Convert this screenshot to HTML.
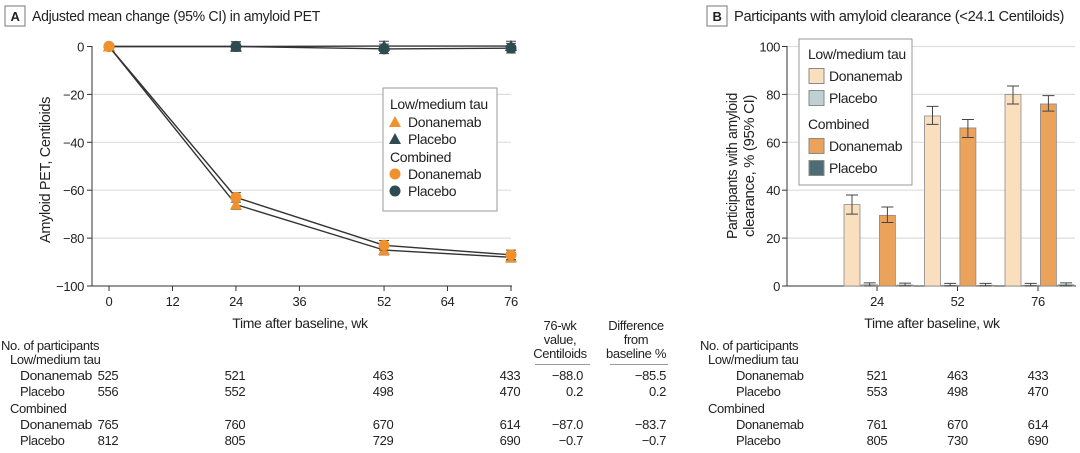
<!DOCTYPE html>
<html><head><meta charset="utf-8"><style>
html,body{margin:0;padding:0;background:#fff;}
svg{display:block;font-family:"Liberation Sans Narrow","Liberation Sans",sans-serif;}
text{fill:#222;letter-spacing:-0.35px;}
</style></head><body>
<svg id="chart" width="1080" height="453" viewBox="0 0 1080 453">
<g id="A"></g>
<g id="B"></g>
</svg>
<script>
// Panel A data
const weeksA = [0, 24, 52, 76];
const ldDona = [0, -66, -85, -88];
const ldPlac = [0, 0, 0.2, 0.2];
const cDona = [0, -63, -83, -87];
const cPlac = [0, 0, -1, -0.7];
const errA = [0.5, 2, 2, 2];
const xTicksA = [0, 12, 24, 36, 52, 64, 76];
const yTicksA = [0, -20, -40, -60, -80, -100];
// Panel B data
const groupsB = ["24", "52", "76"];
const bLdDona = [34, 71, 80];
const bLdDonaLo = [30, 67.5, 76];
const bLdDonaHi = [38, 75, 83.5];
const bLdPlac = [0.5, 0.3, 0.3];
const bCDona = [29.5, 66, 76];
const bCDonaLo = [26.5, 62, 73];
const bCDonaHi = [33, 69.5, 79.5];
const bCPlac = [0.4, 0.3, 0.5];
const yTicksB = [0, 20, 40, 60, 80, 100];
// Tables
const tableA = [["Donanemab","525","521","463","433","−88.0","−85.5"],["Placebo","556","552","498","470","0.2","0.2"],["Donanemab","765","760","670","614","−87.0","−83.7"],["Placebo","812","805","729","690","−0.7","−0.7"]];
const tableB = [["Donanemab","521","463","433"],["Placebo","553","498","470"],["Donanemab","761","670","614"],["Placebo","805","730","690"]];

const NS = "http://www.w3.org/2000/svg";
const OR = "#F0912E", TE = "#2E4A52";
function el(parent, tag, attrs, txt){
  const e = document.createElementNS(NS, tag);
  for (const k in attrs) e.setAttribute(k, attrs[k]);
  if (txt !== undefined) e.textContent = txt;
  parent.appendChild(e);
  return e;
}
const A = document.getElementById("A");
const B = document.getElementById("B");
const xA = w => 109 + w * (511 - 109) / 76;
const yA = v => 46.5 + (0 - v) * (286 - 46.5) / 100;

// Panel A title
let t = el(A, "rect", {x:5, y:6, width:20, height:20, fill:"#fff", stroke:"#777"});


t = el(A, "text", {x:15, y:21, "text-anchor":"middle", "font-size":13, "font-weight":"bold"}, "A");


t = el(A, "text", {x:32, y:21, "font-size":15, textLength:288, lengthAdjust:"spacingAndGlyphs"}, "Adjusted mean change (95% CI) in amyloid PET");



// grid & axes
yTicksA.forEach(v => {
  if (v !== 0 && v !== -100) {
    const g = el(A, "line", {x1:92, x2:511, y1:yA(v), y2:yA(v), stroke:"#dedede", "stroke-width":1.2});
    
    
  }
  const tk = el(A, "line", {x1:87, x2:92, y1:yA(v), y2:yA(v), stroke:"#333"});
  
  
  const lb = el(A, "text", {x:84, y:yA(v)+5, "text-anchor":"end", "font-size":13}, v === 0 ? "0" : "−" + (-v));
  
  
});
t = el(A, "line", {x1:92, x2:92, y1:46, y2:286, stroke:"#333"});


t = el(A, "line", {x1:92, x2:512, y1:286, y2:286, stroke:"#333"});


xTicksA.forEach(w => {
  const tk = el(A, "line", {x1:xA(w), x2:xA(w), y1:286, y2:291, stroke:"#333"});
  
  
  const lb = el(A, "text", {x:xA(w), y:306, "text-anchor":"middle", "font-size":13}, String(w));
  
  
});
t = el(A, "text", {x:300, y:328, "text-anchor":"middle", "font-size":14}, "Time after baseline, wk");


t = el(A, "text", {x:0, y:0, "text-anchor":"middle", "font-size":14.5, textLength:146, lengthAdjust:"spacingAndGlyphs", transform:"translate(50,170) rotate(-90)"}, "Amyloid PET, Centiloids");



function series(vals, color, shape, name){
  const g = el(A, "g", {});
  
  
  const pts = vals.map((v,i) => xA(weeksA[i]) + "," + yA(v)).join(" ");
  const pl = el(g, "polyline", {points:pts, fill:"none", stroke:"#333", "stroke-width":1.4});
  
  
  vals.forEach((v,i) => {
    const x = xA(weeksA[i]), y = yA(v);
    if (i > 0) {
      const y1 = yA(v + errA[i]), y2 = yA(v - errA[i]);
      const eb = el(g, "path", {d:`M${x},${y1}V${y2}M${x-5},${y1}H${x+5}M${x-5},${y2}H${x+5}`, stroke:"#444", fill:"none", "stroke-width":1});
      
      
    }
    let m;
    if (shape === "tri") m = el(g, "polygon", {points:`${x},${y-6} ${x-6},${y+5} ${x+6},${y+5}`, fill:color});
    else m = el(g, "circle", {cx:x, cy:y, r:5.5, fill:color});
    
    
  });
}
series(ldPlac, TE, "tri", "low-tau-placebo");
series(cPlac, TE, "circ", "combined-placebo");
series(ldDona, OR, "tri", "low-tau-donanemab");
series(cDona, OR, "circ", "combined-donanemab");

// Legend A
const legA = el(A, "g", {});


t = el(legA, "rect", {x:383, y:88, width:114, height:123, fill:"#fff", stroke:"#999"});


const legItemsA = [["Low/medium tau",null,null,104],["Donanemab",OR,"tri",122],["Placebo",TE,"tri",139],["Combined",null,null,157],["Donanemab",OR,"circ",174],["Placebo",TE,"circ",191]];
legItemsA.forEach(it => {
  const x0 = it[1] ? 408 : 390;
  const tx = el(legA, "text", {x:x0, y:it[3]+5, "font-size":14}, it[0]);
  
  
  if (it[1]) {
    const x = 395, y = it[3];
    let m = it[2] === "tri" ? el(legA, "polygon", {points:`${x},${y-6} ${x-6},${y+5} ${x+6},${y+5}`, fill:it[1]}) : el(legA, "circle", {cx:x, cy:y, r:5.5, fill:it[1]});
    
    
  }
});

// Table A
function txt(p, x, y, s, anchor, name, size){
  const e = el(p, "text", {x:x, y:y, "text-anchor":anchor || "start", "font-size":size || 13}, s);
  
  
  return e;
}
txt(A, 1, 350, "No. of participants", "start", "table-heading");
txt(A, 10, 364, "Low/medium tau", "start", "table-group-label");
txt(A, 10, 413, "Combined", "start", "table-group-label");
txt(A, 560, 330, "76-wk", "middle", "table-col-header");
txt(A, 560, 344, "value,", "middle", "table-col-header");
txt(A, 560, 358, "Centiloids", "middle", "table-col-header");
txt(A, 636, 330, "Difference", "middle", "table-col-header");
txt(A, 636, 344, "from", "middle", "table-col-header");
txt(A, 636, 358, "baseline %", "middle", "table-col-header");
t = el(A, "path", {d:"M535,364.5H590M610,364.5H668", stroke:"#999"});


const rowY = [380, 396, 429, 445];
tableA.forEach((r,i) => {
  const lab = txt(A, 20, rowY[i], r[0], "start", "table-row-label");
  if (r[0] === "Donanemab") { lab.setAttribute("textLength", "72"); lab.setAttribute("lengthAdjust", "spacingAndGlyphs"); }
  [0,24,52,76].forEach((w,j) => txt(A, xA(w)-1, rowY[i], r[j+1], "middle", "table-count"));
  txt(A, 583, rowY[i], r[5], "end", "table-76wk-value");
  txt(A, 666, rowY[i], r[6], "end", "table-difference");
});

// Panel B
const yB = v => 286 - v * (286 - 46.5) / 100;
const gx = i => 877 + i * 80.5;
t = el(B, "rect", {x:707, y:6, width:20, height:20, fill:"#fff", stroke:"#777"});


txt(B, 717, 21, "B", "middle", "panel-b-letter", 13).setAttribute("font-weight", "bold");
t = txt(B, 734, 21, "Participants with amyloid clearance (<24.1 Centiloids)", "start", "panel-b-title", 15);
t.setAttribute("textLength", "330");
t.setAttribute("lengthAdjust", "spacingAndGlyphs");
yTicksB.forEach(v => {
  if (v !== 0) {
    const g = el(B, "line", {x1:787, x2:1075, y1:yB(v), y2:yB(v), stroke:"#dedede", "stroke-width":1.2});
    
    
  }
  const tk = el(B, "line", {x1:782, x2:787, y1:yB(v), y2:yB(v), stroke:"#333"});
  
  
  txt(B, 780, yB(v)+5, String(v), "end", "y-tick-label", 13);
});
t = el(B, "line", {x1:787, x2:787, y1:46, y2:286, stroke:"#333"});


t = el(B, "line", {x1:787, x2:1076, y1:286, y2:286, stroke:"#333"});


groupsB.forEach((g,i) => {
  const tk = el(B, "line", {x1:gx(i), x2:gx(i), y1:286, y2:291, stroke:"#333"});
  
  
  txt(B, gx(i), 306, g, "middle", "x-tick-label", 13);
});
txt(B, 932, 328, "Time after baseline, wk", "middle", "x-axis-title", 14);
t = el(B, "text", {x:0, y:0, "text-anchor":"middle", "font-size":14.5, textLength:146, lengthAdjust:"spacingAndGlyphs", transform:"translate(737,166) rotate(-90)"}, "Participants with amyloid");


t = el(B, "text", {x:0, y:0, "text-anchor":"middle", "font-size":14.5, textLength:142, lengthAdjust:"spacingAndGlyphs", transform:"translate(754,166) rotate(-90)"}, "clearance, % (95% CI)");



const barSeries = [
  [bLdDona, bLdDonaLo, bLdDonaHi, "#FADFBF", "bar-low-tau-donanemab"],
  [bLdPlac, null, null, "#BFD0D2", "bar-low-tau-placebo"],
  [bCDona, bCDonaLo, bCDonaHi, "#EBA35C", "bar-combined-donanemab"],
  [bCPlac, null, null, "#4E6C74", "bar-combined-placebo"]
];
barSeries.forEach((s,k) => {
  s[0].forEach((v,i) => {
    const x = gx(i) - 33 + k * 17.7;
    const r = el(B, "rect", {x:x, y:yB(v), width:16, height:yB(0)-yB(v), fill:s[3], stroke:"#8a8a8a", "stroke-width":0.8});
    
    
    const cx = x + 8;
    const lo = s[1] ? s[1][i] : 0, hi = s[2] ? s[2][i] : v + 0.8;
    const eb = el(B, "path", {d:`M${cx},${yB(lo)}V${yB(hi)}M${cx-6},${yB(lo)}H${cx+6}M${cx-6},${yB(hi)}H${cx+6}`, stroke:"#444", fill:"none", "stroke-width":1});
    
    
  });
});

const legB = el(B, "g", {});


t = el(legB, "rect", {x:799, y:39, width:113, height:146, fill:"#fff", stroke:"#999"});


const legItemsB = [["Low/medium tau",null,54],["Donanemab","#FADFBF",76],["Placebo","#BFD0D2",98],["Combined",null,124],["Donanemab","#EBA35C",146],["Placebo","#4E6C74",168]];
legItemsB.forEach(it => {
  txt(legB, it[1] ? 829 : 808, it[2]+5, it[0], "start", "legend-entry", 14);
  if (it[1]) {
    const sw = el(legB, "rect", {x:809, y:it[2]-7.5, width:15, height:15, fill:it[1], stroke:"#8a8a8a"});
    
    
  }
});
txt(B, 700, 350, "No. of participants", "start", "table-heading");
txt(B, 708, 364, "Low/medium tau", "start", "table-group-label");
txt(B, 708, 413, "Combined", "start", "table-group-label");
tableB.forEach((r,i) => {
  txt(B, 736, rowY[i], r[0], "start", "table-row-label");
  [0,1,2].forEach(j => txt(B, gx(j), rowY[i], r[j+1], "middle", "table-count"));
});
</script>
</body></html>
